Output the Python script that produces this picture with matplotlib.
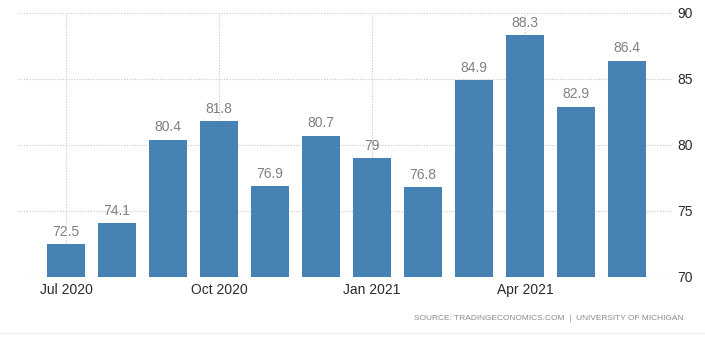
#!/usr/bin/env python3
"""Consumer sentiment bar chart, Jul 2020 - Jun 2021."""

import matplotlib

matplotlib.use("Agg")
import matplotlib.pyplot as plt

months = ["Jul 2020", "Aug 2020", "Sep 2020", "Oct 2020", "Nov 2020", "Dec 2020",
          "Jan 2021", "Feb 2021", "Mar 2021", "Apr 2021", "May 2021", "Jun 2021"]
values = [72.5, 74.1, 80.4, 81.8, 76.9, 80.7, 79.0, 76.8, 84.9, 88.3, 82.9, 86.4]
value_labels = ["72.5", "74.1", "80.4", "81.8", "76.9", "80.7", "79", "76.8",
                "84.9", "88.3", "82.9", "86.4"]
tick_months = ["Jul 2020", "Oct 2020", "Jan 2021", "Apr 2021"]
y_ticks = [70, 75, 80, 85, 90]
source = "SOURCE: TRADINGECONOMICS.COM  |  UNIVERSITY OF MICHIGAN"

plt.rcParams["font.family"] = ["Liberation Sans", "DejaVu Sans"]

fig = plt.figure(figsize=(7.05, 3.47), dpi=100)
ax = fig.add_axes([18 / 705, 70 / 347, (672 - 18) / 705, (277 - 13) / 347])

x = list(range(len(months)))
ax.bar(x, [v - 70 for v in values], bottom=70, width=0.75, color="#4682b4", zorder=3)

for xi, v, lab in zip(x, values, value_labels):
    ax.text(xi, v + 0.4, lab, ha="center", va="bottom", fontsize=10, color="#808080")

ax.set_xlim(-0.94, 11.88)
ax.set_ylim(70, 90)
ax.set_yticks(y_ticks)
ax.set_xticks([months.index(m) for m in tick_months])
ax.set_xticklabels(tick_months)
ax.yaxis.tick_right()
ax.tick_params(axis="both", length=0, labelsize=10, colors="#2a2a2a")
ax.tick_params(axis="y", pad=4)
ax.tick_params(axis="x", pad=4)
ax.grid(True, color="#c8c8c8", linestyle=(0, (1, 1.5)), linewidth=0.8, zorder=0)
for spine in ax.spines.values():
    spine.set_visible(False)

fig.text(683 / 705, 1 - 319 / 347, source, ha="right", va="center",
         fontsize=6, color="#8a8a8a")
fig.add_artist(plt.Line2D([0, 1], [1 - 333 / 347] * 2, color="#f0f0f0", linewidth=1))

fig.savefig("out.png", dpi=100)
